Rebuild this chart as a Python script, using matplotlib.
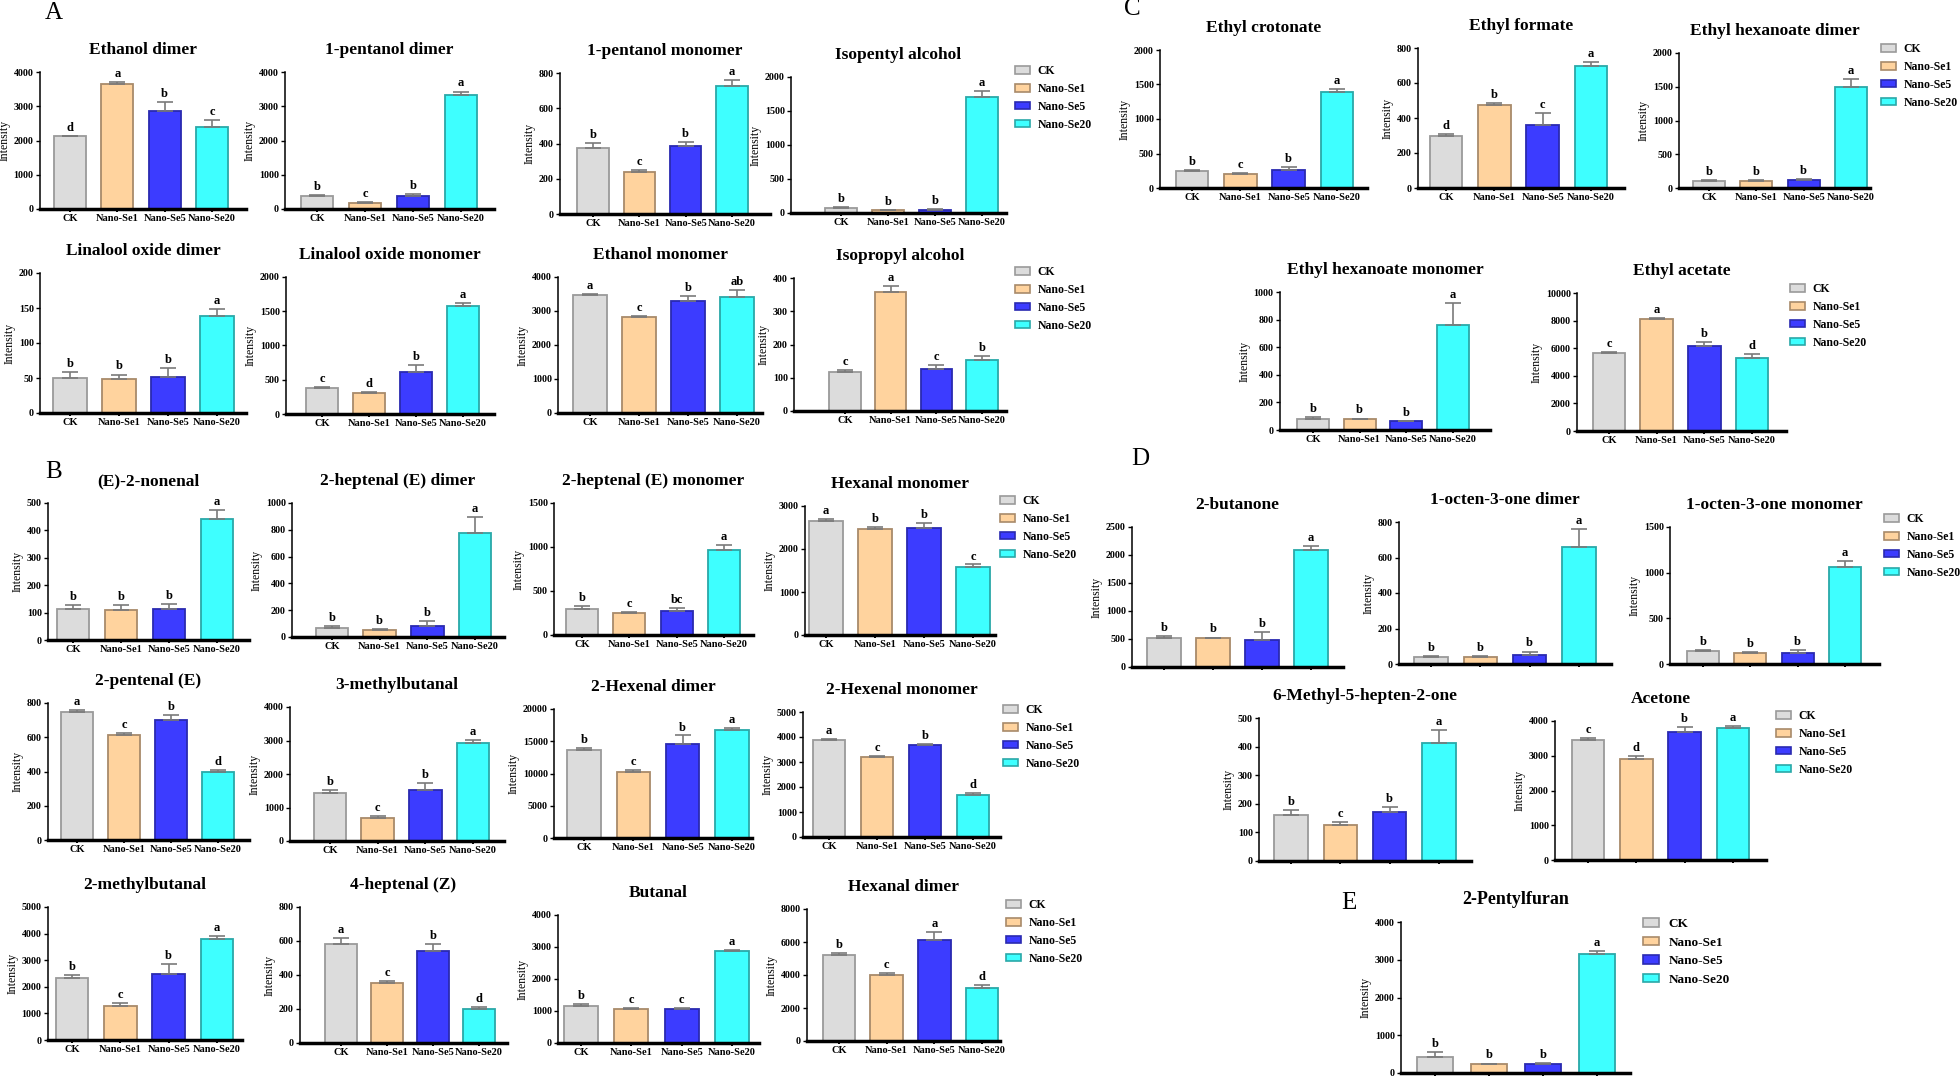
import numpy as np
import matplotlib
matplotlib.use("Agg")
import matplotlib.pyplot as plt
from matplotlib.patches import Patch

plt.rcParams['font.family'] = ['Liberation Serif', 'DejaVu Serif']
plt.rcParams['font.weight'] = 'bold'

groups = ['CK', 'Nano-Se1', 'Nano-Se5', 'Nano-Se20']
colors = ['#dcdcdc', '#ffd39e', '#3c3cff', '#3effff']
edges = ['#9a9a9a', '#a88a6a', '#2a2ab0', '#2aa8a8']

titles = [
    'Ethanol dimer', '1-pentanol dimer', '1-pentanol monomer', 'Isopentyl alcohol',
    'Linalool oxide dimer', 'Linalool oxide monomer', 'Ethanol monomer', 'Isopropyl alcohol',
    '(E)-2-nonenal', '2-heptenal (E) dimer', '2-heptenal (E) monomer', 'Hexanal monomer',
    '2-pentenal (E)', '3-methylbutanal', '2-Hexenal dimer', '2-Hexenal monomer',
    '2-methylbutanal', '4-heptenal (Z)', 'Butanal', 'Hexanal dimer',
    'Ethyl crotonate', 'Ethyl formate', 'Ethyl hexanoate dimer',
    'Ethyl hexanoate monomer', 'Ethyl acetate',
    '2-butanone', '1-octen-3-one dimer', '1-octen-3-one monomer',
    '6-Methyl-5-hepten-2-one', 'Acetone',
    '2-Pentylfuran',
]

means = [
    [2120, 3650, 2850, 2400], [370, 170, 380, 3330], [375, 240, 385, 725], [70, 40, 45, 1710],
    [50, 49, 52, 138], [380, 310, 615, 1580], [3480, 2810, 3300, 3400], [118, 358, 125, 152],
    [113, 108, 113, 443], [65, 53, 83, 778], [295, 250, 275, 965], [2650, 2460, 2480, 1580],
    [745, 615, 700, 400], [1430, 700, 1520, 2940], [13700, 10300, 14500, 16750], [3870, 3210, 3690, 1700],
    [2320, 1280, 2480, 3800], [585, 352, 540, 200], [1170, 1070, 1050, 2880], [5200, 4000, 6150, 3230],
    [240, 200, 265, 1390], [298, 473, 360, 697], [110, 110, 115, 1500],
    [80, 78, 62, 758], [5650, 8100, 6180, 5300],
    [525, 510, 490, 2085], [42, 40, 52, 660], [145, 118, 125, 1065],
    [162, 127, 173, 412], [3440, 2900, 3670, 3810],
    [420, 230, 240, 3140],
]

errs = [
    [20, 50, 260, 200], [50, 30, 70, 100], [30, 8, 25, 35], [15, 8, 15, 80],
    [8, 6, 12, 10], [15, 15, 95, 45], [30, 50, 140, 230], [6, 18, 12, 12],
    [14, 18, 20, 32], [15, 8, 40, 120], [30, 12, 30, 55], [40, 50, 120, 60],
    [15, 12, 30, 6], [100, 40, 200, 70], [200, 200, 1400, 350], [70, 30, 30, 70],
    [130, 110, 370, 110], [30, 10, 40, 10], [40, 20, 50, 30], [150, 150, 450, 150],
    [20, 15, 35, 40], [10, 10, 68, 22], [10, 8, 15, 115],
    [15, 5, 6, 160], [100, 100, 250, 300],
    [30, 15, 140, 70], [5, 5, 18, 100], [8, 8, 28, 65],
    [15, 10, 15, 45], [80, 80, 150, 50],
    [130, 20, 30, 90],
]

letters = [
    'dabc', 'bcba', 'bcba', 'bbba',
    'bbba', 'cdba', ['a', 'c', 'b', 'ab'], 'cacb',
    'bbba', 'bbba', ['b', 'c', 'bc', 'a'], 'abbc',
    'acbd', 'bcba', 'bcba', 'acbd',
    'bcba', 'acbd', 'bcca', 'bcad',
    'bcba', 'dbca', 'bbba',
    'bbba', 'cabd',
    'bbba', 'bbba', 'bbba',
    'bcba', 'cdba',
    'bbba',
]

ymax = [4000, 4000, 800, 2000, 200, 2000, 4000, 400,
        500, 1000, 1500, 3000, 800, 4000, 20000, 5000, 5000, 800, 4000, 8000,
        2000, 800, 2000, 1000, 10000,
        2500, 800, 1500, 500, 4000, 4000]
ystep = [1000, 1000, 200, 500, 50, 500, 1000, 100,
         100, 200, 500, 1000, 200, 1000, 5000, 1000, 1000, 200, 1000, 2000,
         500, 200, 500, 200, 2000,
         500, 200, 500, 100, 1000, 1000]

# layout in pixels of the 1960x1080 canvas: y-axis x, axis end x, baseline y, top y, CK centre, Se20 centre
boxes = [
    (40, 246, 209, 72, 70, 212), (285, 494, 209, 72, 317, 461), (560, 770, 214, 73, 593, 732), (791, 1006, 213, 77, 841, 982),
    (40, 246, 413, 273, 70, 217), (286, 494, 414, 277, 322, 463), (558, 762, 413, 277, 590, 737), (794, 1006, 411, 278, 845, 982),
    (48, 249, 640, 503, 73, 217), (292, 504, 637, 503, 332, 475), (554, 753, 635, 503, 582, 724), (805, 995, 635, 506, 826, 973),
    (48, 249, 840, 703, 77, 218), (290, 504, 841, 707, 330, 473), (554, 752, 838, 709, 584, 732), (803, 1000, 837, 712, 829, 973),
    (48, 242, 1040, 907, 72, 217), (300, 507, 1043, 907, 341, 479), (558, 759, 1043, 915, 581, 732), (807, 1000, 1041, 909, 839, 982),
    (1160, 1367, 188, 50, 1192, 1337), (1418, 1624, 188, 48, 1446, 1591), (1679, 1870, 188, 53, 1709, 1851),
    (1280, 1490, 430, 292, 1313, 1453), (1577, 1786, 431, 293, 1609, 1752),
    (1132, 1343, 667, 527, 1164, 1311), (1399, 1611, 664, 522, 1431, 1579), (1670, 1879, 664, 527, 1703, 1845),
    (1259, 1471, 861, 718, 1291, 1439), (1555, 1766, 860, 721, 1588, 1733),
    (1401, 1630, 1073, 922, 1435, 1597),
]
no_xlabels = set(range(25, 31))

# legend: square left x, top y, font size
legends = [(1015, 65, 8.5), (1015, 266, 8.5), (1000, 495, 8.5), (1003, 704, 8.5), (1006, 899, 8.5),
           (1881, 43, 8.5), (1790, 283, 8.5), (1884, 513, 8.5), (1776, 710, 8.5), (1643, 918, 9.5)]

panels = [('A', 54, 13), ('B', 54, 472), ('C', 1132, 9), ('D', 1140, 459), ('E', 1349, 903)]

W, H = 1960, 1080
fig = plt.figure(figsize=(W / 100, H / 100), dpi=100)

for i, t in enumerate(titles):
    L, R, B, T, c0, c3 = boxes[i]
    s = (c3 - c0) / 3
    ax = fig.add_axes([L / W, 1 - B / H, (R - L) / W, (B - T) / H])
    x = np.arange(4)
    ax.bar(x, means[i], width=0.68, color=colors, edgecolor=edges, linewidth=1.3, zorder=2)
    ax.errorbar(x, means[i], yerr=[np.zeros(4), errs[i]], fmt='none', ecolor='#7a7a7a',
                elinewidth=1.2, capsize=6, capthick=1.2, zorder=3)
    for k in range(4):
        ax.text(x[k], means[i][k] + errs[i][k] + ymax[i] * 0.015, letters[i][k],
                ha='center', va='bottom', fontsize=9, fontweight='bold')
    ax.set_xlim((L - c0) / s, (R - c0) / s)
    ax.set_ylim(0, ymax[i])
    ax.set_yticks(np.arange(0, ymax[i] + 1, ystep[i]))
    ax.set_xticks(x)
    if i in no_xlabels:
        ax.set_xticklabels([])
    else:
        ax.set_xticklabels(groups, fontsize=7.5)
    ax.tick_params(axis='y', labelsize=7.2, length=3, width=1, pad=1.5)
    ax.tick_params(axis='x', direction='inout', length=4, width=1.4, pad=1.5)
    for sp in ('top', 'right'):
        ax.spines[sp].set_visible(False)
    ax.spines['bottom'].set_linewidth(2.5)
    ax.spines['left'].set_linewidth(1.1)
    ax.set_ylabel('Intensity', fontsize=8.5, labelpad=2)
    fs = 13 if i == 30 else 12.5
    ax.set_title(t, fontsize=fs, fontweight='bold', pad=13)

handles = [Patch(facecolor=colors[k], edgecolor=edges[k], linewidth=1.2) for k in range(4)]
for lx, ly, fs in legends:
    fig.legend(handles, groups, loc='upper left', bbox_to_anchor=(lx / W, 1 - ly / H),
               frameon=False, fontsize=fs, handlelength=1.25, handleheight=0.62,
               handletextpad=0.68, labelspacing=0.5, borderpad=0, borderaxespad=0)

for lab, px, py in panels:
    fig.text(px / W, 1 - py / H, lab, fontsize=18, fontweight='normal',
             ha='center', va='center')

fig.savefig('out.png', dpi=100)
